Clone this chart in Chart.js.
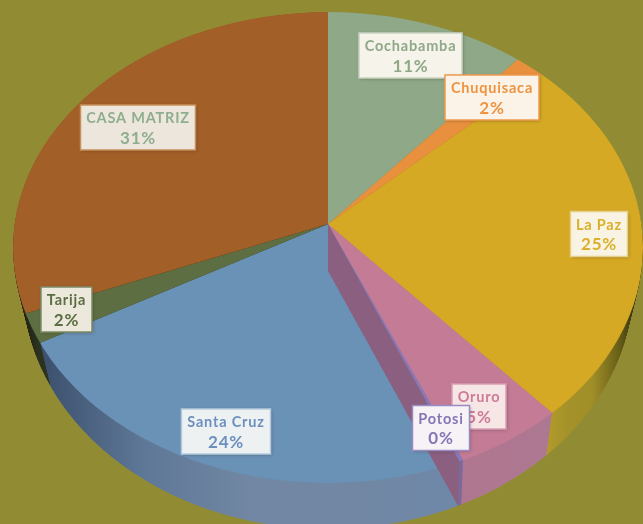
<!DOCTYPE html>
<html>
<head>
<meta charset="utf-8">
<style>html,body{margin:0;padding:0;background:#918c34;overflow:hidden}canvas{display:block}</style>
<script src="https://cdn.jsdelivr.net/npm/chart.js@4"></script>
</head>
<body>
<canvas id="c" width="643" height="524"></canvas>
<script>
const categories = ['Cochabamba','Chuquisaca','La Paz','Oruro','Potosi','Santa Cruz','Tarija','CASA MATRIZ'];
const shares = [10.5,1.7,25.49,5.31,0.2,24.4,1.9,30.5];
const faceColors = ['#8fa888','#e8903e','#d5a923','#c47b96','#8a78b8','#6a91b6','#5d6f42','#a35f28'];
const wallStops = [
  ['#6f8568','#6f8568'],['#b06a28','#b06a28'],['#b69d2b','#a5922a','#a08e28','#6b6218','#1f1e0c'],
  ['#b0768f','#ad7892'],['#7a6a9c','#7a6a9c'],['#3a4f6c','#5f7897','#7187a3','#7187a3','#6f88a8'],
  ['#20251a','#2b3320'],['#2a2510','#2a2510']
];
const textColors = ['#8fa888','#ee9340','#dbb02c','#cf7b98','#8776b6','#6b90bf','#5b6e42','#8fae8d'];
const boxBorders = ['#c9d4c2','#ef9a4c','#e6cf86','#dc9fb4','#9a8bc4','#b6cbe0','#7e8a68','#c78f5a'];
const boxFills = ['#f6f3ea','#fbf3e8','#f8f3e2','#f6e6e6','#f6f2f6','#eef1f2','#ece8dc','#ede6dd'];
const labelCenters = [[410.5,55.5],[492,97.5],[599,234],[479,406.5],[441,428],[226,431.5],[66.5,309.5],[138,127.5]];
const labelOrder = [0,1,2,7,6,5,3,4];

const FAN = {x:328,y:224,rx:315,ryUp:212,ryDown:259,depth:47,over:1.35};
const TOP_RIM = {cy:247.5,rx:315,ry:235.5};
const BASE_RIM = {cy:285,rx:305,ry:244};
function rimAt(t){
  return {cy:TOP_RIM.cy+(BASE_RIM.cy-TOP_RIM.cy)*t, rx:TOP_RIM.rx+(BASE_RIM.rx-TOP_RIM.rx)*t, ry:TOP_RIM.ry+(BASE_RIM.ry-TOP_RIM.ry)*t};
}
// Where a slice edge (chart angle a) meets the rim, at wall height t (0 top, 1 base).
function rimPoint(a,t){
  const e=rimAt(t), fy=FAN.y+FAN.depth*t;
  const s=Math.sin(a), dx=FAN.rx*Math.cos(a), dy=(s<0?FAN.ryUp:FAN.ryDown)*s;
  const A=dx*dx/(e.rx*e.rx)+dy*dy/(e.ry*e.ry);
  const off=(fy-e.cy);
  const B=2*dy*off/(e.ry*e.ry);
  const C=off*off/(e.ry*e.ry)-1;
  const k=(-B+Math.sqrt(B*B-4*A*C))/(2*A);
  return [FAN.x+dx*k, fy+dy*k];
}
function arcExtent(arc){
  const n=24; let lo=1e9, hi=-1e9;
  for(let k=0;k<=n;k++){
    const q=rimPoint(arc.startAngle+(arc.endAngle-arc.startAngle)*k/n,0);
    lo=Math.min(lo,q[0]);hi=Math.max(hi,q[0]);
  }
  return [lo,hi];
}
function drawLayer(ctx,meta,fill,t){
  const e=rimAt(t), fy=FAN.y+FAN.depth*t;
  meta.data.forEach((arc,i)=>{
    const p=arc.getProps(['x','y','outerRadius']);
    const R=p.outerRadius, sx=FAN.rx*FAN.over/R;
    const o=Object.create(arc);
    const opts=Object.create(arc.options);
    opts.borderWidth=0;
    opts.backgroundColor=fill(i,p,sx);
    o.options=opts;
    [[FAN.ryUp,-2000,2000+fy],[FAN.ryDown,fy-0.5,2000]].forEach(([ry,top,h])=>{
      ctx.save();
      ctx.beginPath();ctx.ellipse(FAN.x,e.cy,e.rx,e.ry,0,0,Math.PI*2);ctx.clip();
      ctx.beginPath();ctx.rect(0,top,643,h);ctx.clip();
      ctx.translate(FAN.x,fy);
      ctx.scale(sx,ry*FAN.over/R);
      ctx.translate(-p.x,-p.y);
      o.draw(ctx);
      ctx.restore();
    });
  });
}
const piePlugin={
  id:'tiltedPie',
  beforeDatasetDraw(chart,args){
    const ctx=chart.ctx, meta=args.meta;
    const layers=FAN.depth;
    for(let d=layers;d>=1;d--){
      drawLayer(ctx,meta,(i,p,sx)=>{
        const a=arcExtent(meta.data[i]);
        const x0=p.x+(a[0]-FAN.x)/sx, x1=p.x+(a[1]-FAN.x)/sx;
        const g=ctx.createLinearGradient(x0,0,Math.max(x1,x0+1),0);
        const st=wallStops[i];
        st.forEach((c,k)=>g.addColorStop(k/(st.length-1),c));
        return g;
      },d/layers);
    }
    drawLayer(ctx,meta,(i)=>faceColors[i],0);
    // cut wall along the Santa Cruz / Oruro boundary
    const a=meta.data[5].startAngle;
    const rim=rimPoint(a,0), base=rimPoint(a,1);
    ctx.save();
    ctx.fillStyle='#8a5f80';
    ctx.beginPath();
    ctx.moveTo(FAN.x,FAN.y);
    ctx.lineTo(rim[0],rim[1]);
    ctx.lineTo(base[0],base[1]);
    ctx.lineTo(FAN.x,FAN.y+FAN.depth);
    ctx.closePath();ctx.fill();
    ctx.restore();
    return false;
  },
  afterDatasetsDraw(chart){
    const ctx=chart.ctx;
    const total=shares.reduce((s,v)=>s+v,0);
    labelOrder.forEach(i=>{
      const [cx,cy]=labelCenters[i];
      const line2=Math.round(shares[i]/total*100)+'%';
      ctx.save();
      ctx.font='bold 14.5px Lato';
      ctx.letterSpacing='0.8px';
      const w=Math.ceil(ctx.measureText(categories[i]).width)+11, h=45;
      ctx.shadowColor='rgba(40,40,20,.35)';ctx.shadowBlur=3;ctx.shadowOffsetX=1;ctx.shadowOffsetY=1;
      ctx.fillStyle=boxFills[i];
      ctx.fillRect(cx-w/2,cy-h/2,w,h);
      ctx.shadowColor='transparent';ctx.shadowBlur=0;ctx.shadowOffsetX=0;ctx.shadowOffsetY=0;
      ctx.strokeStyle=boxBorders[i];ctx.lineWidth=1.5;
      ctx.strokeRect(cx-w/2,cy-h/2,w,h);
      ctx.fillStyle=textColors[i];
      ctx.textAlign='center';ctx.textBaseline='middle';
      ctx.fillText(categories[i],cx,cy-9);
      ctx.font='bold 17px Lato';
      ctx.fillText(line2,cx,cy+11);
      ctx.restore();
    });
  }
};
new Chart(document.getElementById('c'),{
  type:'pie',
  data:{labels:categories,datasets:[{data:shares,backgroundColor:faceColors,borderWidth:0}]},
  options:{
    responsive:false,animation:false,
    layout:{padding:0},
    plugins:{legend:{display:false},tooltip:{enabled:false}}
  },
  plugins:[piePlugin]
});
</script>
</body>
</html>
